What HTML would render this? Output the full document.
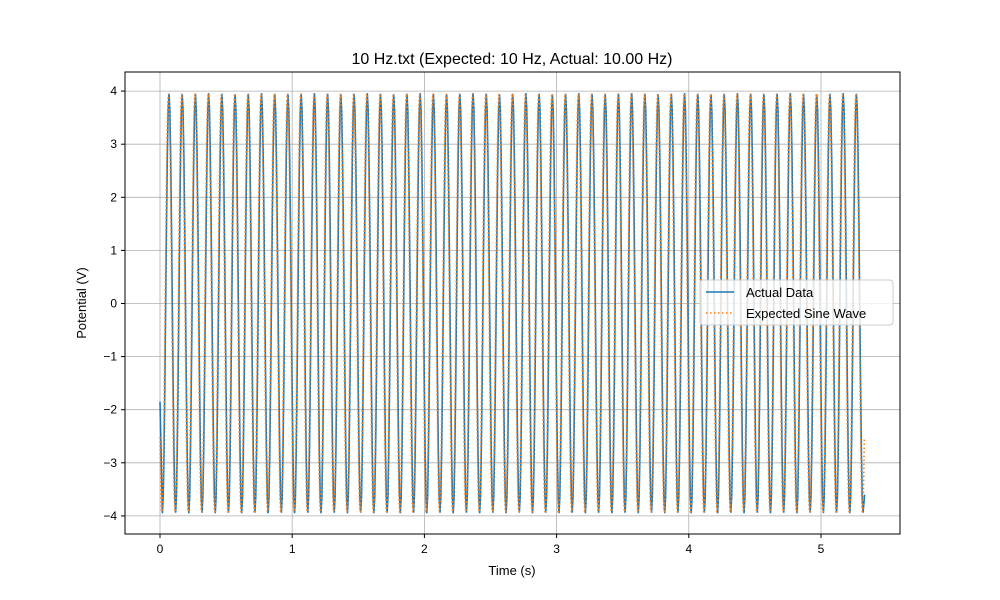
<!DOCTYPE html>
<html><head><meta charset="utf-8"><style>
body{margin:0;background:#fff}
svg{display:block;font-family:"Liberation Sans","DejaVu Sans",sans-serif}
</style></head><body>
<svg id="chart" width="1000" height="600">
<text x="512" y="64" font-size="16" text-anchor="middle">10 Hz.txt (Expected: 10 Hz, Actual: 10.00 Hz)</text>
<g id="grid"></g><g id="ticks"></g>
<clipPath id="clip"><rect x="125" y="72" width="775" height="462"/></clipPath>
<g id="series" clip-path="url(#clip)"></g>
<rect x="125" y="72" width="775" height="462" fill="none" stroke="#000" stroke-width="1"/>
<text x="512" y="575" font-size="13" text-anchor="middle">Time (s)</text>
<text x="86" y="303" font-size="13" text-anchor="middle" transform="rotate(-90 86 303)">Potential (V)</text>
<g>
<rect x="700" y="280" width="193" height="45" rx="3" fill="#fff" fill-opacity="0.8" stroke="#ccc"/>
<g><line x1="706" y1="292" x2="734" y2="292" stroke="#1f77b4" stroke-width="1.5"/><text x="746" y="297" font-size="13">Actual Data</text></g>
<g><line x1="706" y1="313" x2="734" y2="313" stroke="#ff7f0e" stroke-width="1.5" stroke-dasharray="1.5 2.5"/><text x="746" y="318" font-size="13">Expected Sine Wave</text></g>
</g>
</svg>
<script>
const xTicks=[0,1,2,3,4,5];
const yTicks=[-4,-3,-2,-1,0,1,2,3,4];
const actualStart=[0,-1.85];
const actualFirstExtremumTime=[0.018];
const actualHalfPeriod=[0.05];
const actualEnd=[5.33,-3.6];
const actualPeaks=[3.95,3.94,3.95,3.96,3.95,3.94,3.95,3.96,3.95,3.94,3.95,3.96,3.95,3.94,3.95,3.96,3.95,3.94,3.95,3.96,3.95,3.94,3.95,3.96,3.95,3.94,3.95,3.96,3.95,3.94,3.95,3.96,3.95,3.94,3.95,3.96,3.95,3.94,3.95,3.96,3.95,3.94,3.95,3.96,3.95,3.94,3.95,3.96,3.95,3.94,3.95,3.96,3.95];
const actualTroughs=[-3.95,-3.94,-3.95,-3.94,-3.95,-3.94,-3.95,-3.94,-3.95,-3.94,-3.95,-3.94,-3.95,-3.94,-3.95,-3.94,-3.95,-3.94,-3.95,-3.94,-3.95,-3.94,-3.95,-3.94,-3.95,-3.94,-3.95,-3.94,-3.95,-3.94,-3.95,-3.94,-3.95,-3.94,-3.95,-3.94,-3.95,-3.94,-3.95,-3.94,-3.95,-3.94,-3.95,-3.94,-3.95,-3.94,-3.95,-3.94,-3.95,-3.94,-3.95,-3.94,-3.95,-3.94];
const expectedParams=[3.95,10,0.014,0,5.33]; // amplitude, freq, trough-time offset, tStart, tEnd
const NS='http://www.w3.org/2000/svg';
const X=t=>160+t*132.2, Y=v=>303.5-v*53.1;
const g=document.getElementById('grid'),tk=document.getElementById('ticks'),s=document.getElementById('series');
function mk(tag,attrs,parent){const e=document.createElementNS(NS,tag);for(const k in attrs)e.setAttribute(k,attrs[k]);parent.appendChild(e);return e;}
xTicks.forEach(t=>{
 const l=mk('line',{x1:X(t),x2:X(t),y1:72,y2:534,stroke:'#b0b0b0','stroke-width':0.8},g);
 
 
 mk('line',{x1:X(t),x2:X(t),y1:534,y2:538,stroke:'#000'},tk);
 const tx=mk('text',{x:X(t),y:553,'font-size':12,'text-anchor':'middle'},tk);tx.textContent=t;
 
 
});
yTicks.forEach(v=>{
 const l=mk('line',{x1:125,x2:900,y1:Y(v),y2:Y(v),stroke:'#b0b0b0','stroke-width':0.8},g);
 
 
 mk('line',{x1:121,x2:125,y1:Y(v),y2:Y(v),stroke:'#000'},tk);
 const tx=mk('text',{x:117,y:Y(v)+4,'font-size':12,'text-anchor':'end'},tk);tx.textContent=(v<0?'\u2212':'')+Math.abs(v);
 
 
});
// actual data: extrema alternating trough/peak
const ext=[];let ti=0,pi=0;
for(let k=0;;k++){const t=actualFirstExtremumTime[0]+k*actualHalfPeriod[0];if(t>actualEnd[0])break;
 const v=k%2===0?actualTroughs[ti++ % actualTroughs.length]:actualPeaks[pi++ % actualPeaks.length];ext.push([t,v]);}
let d='M'+X(actualStart[0])+','+Y(actualStart[1])+' L'+X(ext[0][0])+','+Y(ext[0][1]);
for(let i=0;i<ext.length-1;i++){const [t0,v0]=ext[i],[t1,v1]=ext[i+1];
 for(let j=1;j<=8;j++){const f=j/8,w=(1-Math.cos(Math.PI*f))/2;d+=' L'+X(t0+(t1-t0)*f).toFixed(2)+','+Y(v0+(v1-v0)*w).toFixed(2);}}
d+=' L'+X(actualEnd[0])+','+Y(actualEnd[1]);
const pa=mk('path',{d:d,fill:'none',stroke:'#1f77b4','stroke-width':1.6},s);


const [A,F,T0,ts,te]=expectedParams;let d2='';
for(let t=ts;t<=te+1e-9;t+=0.004){const v=-A*Math.cos(2*Math.PI*F*(t-T0));d2+=(d2?' L':'M')+X(t).toFixed(2)+','+Y(v).toFixed(2);}
const pe=mk('path',{d:d2,fill:'none',stroke:'#ff7f0e','stroke-width':1.6,'stroke-dasharray':'1.5 2.5'},s);


</script>
</body></html>
